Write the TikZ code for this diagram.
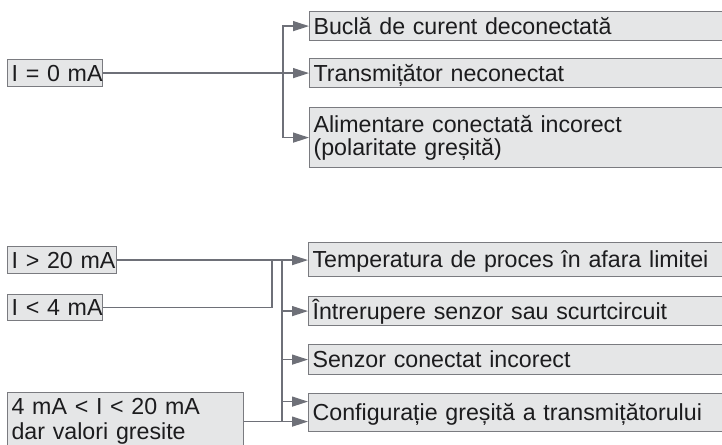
\documentclass[tikz,border=0pt]{standalone}
\usepackage{fontspec}
\setmainfont{Liberation Sans}
\usetikzlibrary{arrows.meta}
\definecolor{boxfill}{RGB}{229,230,231}
\definecolor{boxdraw}{RGB}{122,123,128}
\definecolor{linec}{RGB}{110,112,120}
\definecolor{textc}{RGB}{28,28,30}
\begin{document}
\begin{tikzpicture}[x=1pt,y=-1pt,
  box/.style={draw=boxdraw, fill=boxfill, line width=1.2pt, anchor=north west,
    inner xsep=4pt, inner ysep=0pt, align=left, text=textc,
    font=\fontsize{23.2}{23}\selectfont},
  one/.style={text height=16pt, text depth=0pt},
  conn/.style={draw=linec, line width=1.3pt},
  arr/.style={conn, -{Triangle[length=16pt,width=10pt]}}]
\useasboundingbox (0,0) rectangle (722,444);
\clip (0,0) rectangle (722,444);
% top group
\node[box, one, text width=87pt, minimum height=27pt] (z0) at (7,59) {I~=~0~mA};
\node[box, one, text width=428pt, minimum height=29pt] (b1) at (309,11) {Buclă de curent deconectată};
\node[box, one, text width=428pt, minimum height=29pt] (b2) at (309,58) {Transmițător neconectat};
\node[box, text width=428pt, minimum height=60pt] (b3) at (309,107) {Alimentare conectată incorect\\(polaritate greșită)};
\coordinate (busA) at (283,0);
\draw[arr] (z0.east) -- (b2.west);
\draw[arr] (busA |- b3.west) -- (busA |- b1.west) -- (b1.west);
\draw[arr] (busA |- b3.west) -- (b3.west);
% bottom group
\node[box, one, text width=101pt, minimum height=27pt] (g1) at (7,246) {I~>~20~mA};
\node[box, one, text width=87pt, minimum height=26pt] (g2) at (7,294) {I~<~4~mA};
\node[box, text width=228pt, minimum height=58pt, font=\fontsize{23.2}{25}\selectfont] (g3) at (7,392) {4~mA~<~I~<~20~mA\\dar valori gresite};
\node[box, one, text width=429pt, minimum height=34pt] (r1) at (308,242) {Temperatura de proces în afara limitei};
\node[box, one, text width=429pt, minimum height=29pt] (r2) at (308,296) {Întrerupere senzor sau scurtcircuit};
\node[box, one, text width=429pt, minimum height=30pt] (r3) at (308,344) {Senzor conectat incorect};
\node[box, one, text width=429pt, minimum height=38pt] (r4) at (308,393) {Configurație greșită a transmițătorului};
\coordinate (busB) at (282,0);
\coordinate (joinC) at (272,0);
\draw[arr] (g1.east) -- (g1.east -| r1.west);
\draw[conn] (g2.east) -| (joinC |- g1.east);
\draw[conn] (busB |- g1.east) -- (busB |- g3.east);
\draw[arr] (g3.east) -- (g3.east -| r4.west);
\draw[arr] (busB |- r2.west) -- (r2.west);
\draw[arr] (busB |- r3.west) -- (r3.west);
\draw[arr] ([yshift=11pt]r4.west -| busB) -- ([yshift=11pt]r4.west);
\end{tikzpicture}
\end{document}
